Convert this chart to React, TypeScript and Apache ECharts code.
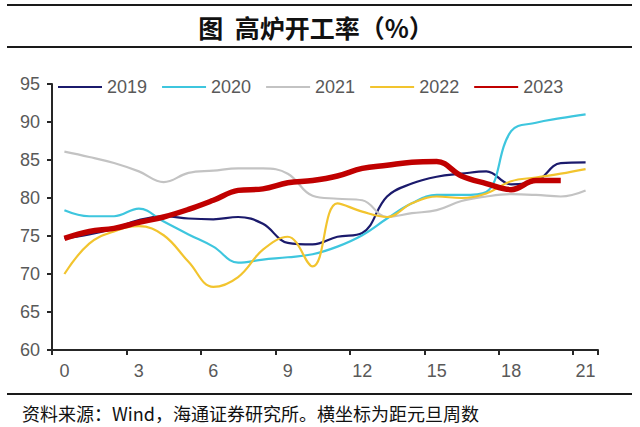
import React, { useEffect, useRef } from "react";
import * as echarts from "echarts";

const weeks = ["0", "1", "2", "3", "4", "5", "6", "7", "8", "9", "10", "11", "12", "13", "14", "15", "16", "17", "18", "19", "20", "21"];

const y2019 = [74.7, 75.2, 76.0, 77.1, 77.6, 77.3, 77.2, 77.5, 76.6, 74.1, 73.9, 74.9, 75.4, 80.2, 81.9, 82.8, 83.2, 83.5, 81.8, 82.2, 84.6, 84.7];
const y2020 = [78.4, 77.6, 77.6, 78.6, 76.9, 75.2, 73.6, 71.5, 71.9, 72.2, 72.6, 73.6, 75.1, 77.3, 79.3, 80.4, 80.4, 80.8, 88.8, 89.9, 90.5, 91.0];
const y2021 = [86.1, 85.4, 84.6, 83.5, 82.1, 83.3, 83.6, 83.9, 83.9, 83.2, 80.3, 79.9, 79.7, 77.5, 78.0, 78.4, 79.6, 80.2, 80.5, 80.4, 80.2, 81.0];
const y2022 = [70.0, 74.0, 75.6, 76.3, 75.1, 71.6, 68.3, 69.6, 73.2, 74.9, 71.0, 79.3, 78.2, 77.5, 79.3, 80.2, 80.0, 80.6, 82.2, 82.7, 83.2, 83.8];
const y2023 = [74.7, 75.6, 76.0, 76.8, 77.5, 78.5, 79.7, 81.0, 81.2, 82.0, 82.3, 82.9, 83.9, 84.3, 84.7, 84.8, 82.9, 81.9, 81.1, 82.3, 82.3];

const seriesNames = ["2019", "2020", "2021", "2022", "2023"];
const seriesColors = ["#1B1A6C", "#3EC6DE", "#C3C3C3", "#F2C42E", "#C00000"];
const seriesWidths = [2.2, 2.2, 2.2, 2.2, 5.5];
const seriesData = [y2019, y2020, y2021, y2022, y2023];

const titleText = "图  高炉开工率（%）";
const noteText = "资料来源：Wind，海通证券研究所。横坐标为距元旦周数";

export default function App() {
  const ref = useRef<HTMLDivElement>(null);
  useEffect(() => {
    document.body.style.margin = "0";
    const chart = echarts.init(ref.current!, null, { renderer: "svg" });
    const font = "Liberation Sans, Arial, sans-serif";
    chart.setOption({
      animation: false,
      backgroundColor: "#ffffff",
      grid: { left: 52, right: 42, top: 84, bottom: 77 },
      legend: {
        left: 52,
        top: 73,
        itemWidth: 44,
        itemHeight: 14,
        itemGap: 14,
        itemStyle: { opacity: 0 },
        textStyle: { color: "#595959", fontSize: 18, fontFamily: font },
        data: seriesNames,
      },
      xAxis: {
        type: "category",
        data: weeks,
        boundaryGap: true,
        axisLine: { show: true, lineStyle: { color: "#262626", width: 2 } },
        axisTick: { show: true, interval: 2, length: 5, lineStyle: { color: "#262626", width: 2 } },
        axisLabel: { interval: 2, color: "#595959", fontSize: 18, fontFamily: font, margin: 12 },
        splitLine: { show: false },
      },
      yAxis: {
        type: "value",
        min: 60,
        max: 95,
        interval: 5,
        axisLine: { show: true, lineStyle: { color: "#262626", width: 2 } },
        axisTick: { show: true, length: 5, lineStyle: { color: "#262626", width: 2 } },
        axisLabel: { color: "#595959", fontSize: 18, fontFamily: font, margin: 12 },
        splitLine: { show: false },
      },
      series: seriesNames.map((name, i) => ({
        name,
        type: "line",
        data: seriesData[i],
        smooth: 0.4,
        symbol: "none",
        z: i === 4 ? 10 : 2,
        lineStyle: { color: seriesColors[i], width: seriesWidths[i] },
        itemStyle: { color: seriesColors[i] },
      })),
      graphic: [
        { type: "line", shape: { x1: 7, y1: 5, x2: 632, y2: 5 }, style: { stroke: "#1a1a1a", lineWidth: 2 } },
        { type: "line", shape: { x1: 7, y1: 47, x2: 632, y2: 47 }, style: { stroke: "#1a1a1a", lineWidth: 2 } },
        { type: "line", shape: { x1: 7, y1: 394, x2: 632, y2: 394 }, style: { stroke: "#1a1a1a", lineWidth: 2 } },
        {
          type: "text",
          x: 316,
          y: 27,
          style: {
            text: titleText,
            fill: "#111",
            font: "bold 25px 'Noto Sans CJK SC', sans-serif",
            textAlign: "center",
            textVerticalAlign: "middle",
          },
        },
        {
          type: "text",
          x: 22,
          y: 413,
          style: {
            text: noteText,
            fill: "#111",
            font: "18px 'Noto Sans CJK SC', sans-serif",
            textAlign: "left",
            textVerticalAlign: "middle",
          },
        },
      ],
    });
    return () => chart.dispose();
  }, []);
  return <div ref={ref} style={{ width: 640, height: 427 }} />;
}
